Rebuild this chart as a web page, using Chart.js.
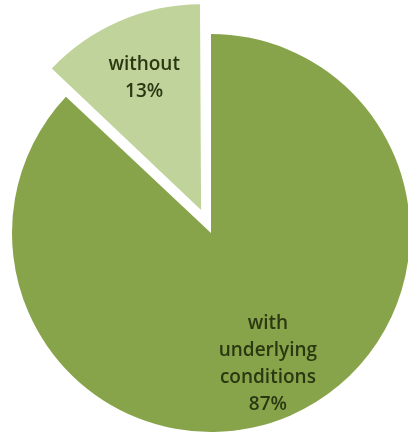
<!DOCTYPE html>
<html>
<head>
<meta charset="utf-8">
<script src="https://cdn.jsdelivr.net/npm/chart.js@4/dist/chart.umd.min.js"></script>
<style>
html,body{margin:0;padding:0;background:#fff;}
#wrap{width:408px;height:435px;position:relative;}
</style>
</head>
<body>
<div id="wrap"><canvas id="c" width="408" height="435"></canvas></div>
<script>
const categories = ["with underlying conditions", "without"];
const labelLines = [["with", "underlying", "conditions"], ["without"]];
const values = [87, 13];
const colors = ["#88A44B", "#BFD39A"];
const offsets = [0, 100]; // Chart.js v4 draws an arc offset at 1/4 of this value

const labelPlugin = {
  id: 'pieLabels',
  afterDatasetsDraw(chart) {
    const ctx = chart.ctx;
    const meta = chart.getDatasetMeta(0);
    const total = values.reduce((a, b) => a + b, 0);
    ctx.save();
    ctx.fillStyle = '#2A3811';
    ctx.font = '600 19px "Open Sans", Lato, sans-serif';
    ctx.textAlign = 'center';
    ctx.textBaseline = 'middle';
    meta.data.forEach((arc, i) => {
      const p = arc.getProps(['x', 'y', 'startAngle', 'endAngle', 'outerRadius'], true);
      const mid = (p.startAngle + p.endAngle) / 2;
      const off = (arc.options.offset || 0) / 4;
      const r = p.outerRadius * 0.72 + off;
      const cx = p.x + Math.cos(mid) * r;
      const cy = p.y + Math.sin(mid) * r;
      const lines = labelLines[i].concat([Math.round(values[i] / total * 100) + '%']);
      const lh = 27;
      const top = cy - (lines.length - 1) * lh / 2;
      lines.forEach((t, k) => ctx.fillText(t, cx, top + k * lh));
    });
    ctx.restore();
  }
};

new Chart(document.getElementById('c'), {
  type: 'pie',
  data: {
    labels: categories,
    datasets: [{
      data: values,
      backgroundColor: colors,
      borderWidth: 0,
      offset: offsets,
      clip: false
    }]
  },
  options: {
    responsive: false,
    animation: false,
    radius: 199,
    rotation: 0,
    layout: { padding: { left: 14, right: 0, top: 31, bottom: 0 } },
    plugins: {
      legend: { display: false },
      tooltip: { enabled: false }
    }
  },
  plugins: [labelPlugin]
});
</script>
</body>
</html>
